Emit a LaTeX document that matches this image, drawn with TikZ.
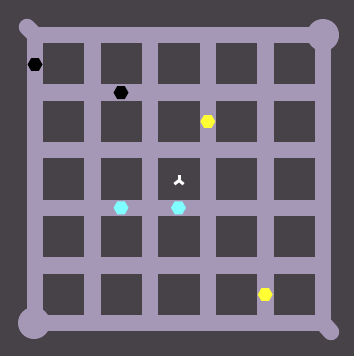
\documentclass[tikz,border=0pt]{standalone}
\usetikzlibrary{shapes.geometric}
\definecolor{bgdark}{HTML}{474247}
\definecolor{road}{HTML}{A598B6}
\definecolor{hexyellow}{HTML}{FFFF33}
\definecolor{hexcyan}{HTML}{7FFFFF}
\tikzset{
  roadline/.style={draw=road, line width=16.5pt, line cap=rect},
  stub/.style={draw=road, line width=16.5pt, line cap=round},
  hexa/.style={regular polygon, regular polygon sides=6, minimum size=15pt, inner sep=0pt, draw=none},
  mark3/.style={draw=white, line width=3pt}
}
\begin{document}
\begin{tikzpicture}[x=1pt,y=-1pt]
\fill[bgdark] (0,0) rectangle (354,356);
\useasboundingbox (0,0) rectangle (354,356);
% grid roads
\foreach \k in {0,...,5}{
  \pgfmathsetmacro{\c}{35+57.6*\k}
  \draw[roadline] (\c,35) -- (\c,323);
  \draw[roadline] (35,\c) -- (323,\c);
}
% corner decorations
\draw[stub] (35,35) -- (27,27);
\draw[stub] (323,323) -- (331,332);
\fill[road] (323,35) circle (16);
\fill[road] (34,323) circle (16);
% hexagons
\node[hexa, fill=black] (h1) at (35,64.5) {};
\node[hexa, fill=black] (h2) at (121,92.6) {};
\node[hexa, fill=hexyellow] (h3) at (207.8,121.5) {};
\node[hexa, fill=hexcyan] (h4) at (121,207.8) {};
\node[hexa, fill=hexcyan] (h5) at (178.5,207.8) {};
\node[hexa, fill=hexyellow] (h6) at (265.2,294.5) {};
% white tri-mark
\coordinate (m) at (179,180.5);
\draw[mark3] (m) -- ++(0,-5.5);
\draw[mark3] (m) -- ++(-4.6,3.6);
\draw[mark3] (m) -- ++(4.6,3.6);
\end{tikzpicture}
\end{document}
